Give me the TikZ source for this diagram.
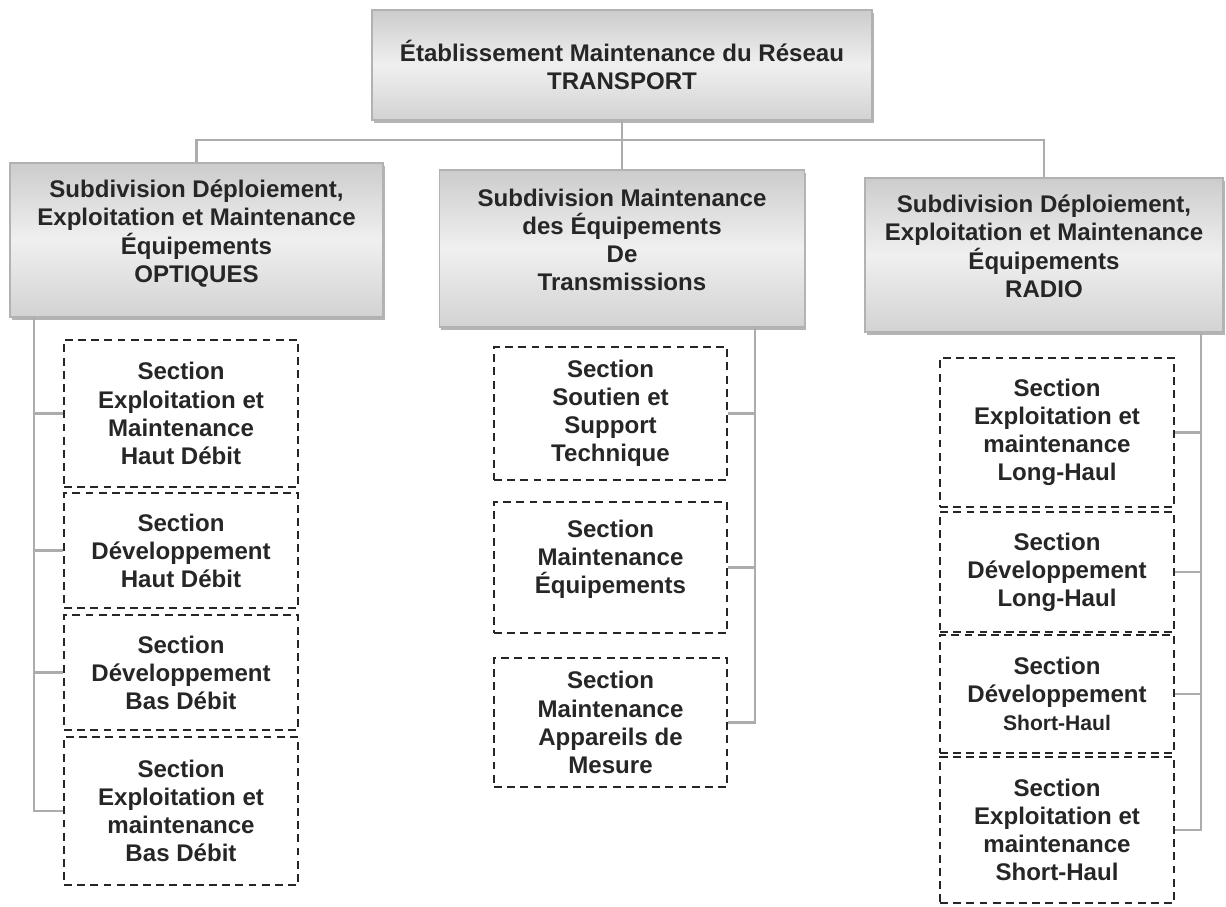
\documentclass[tikz,border=0pt]{standalone}
\usepackage{fontspec}
\setmainfont{Liberation Sans}
\usepackage{tikz}
\usetikzlibrary{shadows}
\newcommand*{\labelfont}{\fontsize{13.7}{16}\selectfont\bfseries}
\newcommand*{\smallhaul}{\fontsize{12}{14}\selectfont}
\tikzstyle{link} = [draw=gray!65, line width=1.2pt]
\tikzstyle{headbox} = [rectangle, draw=gray!60, line width=0.8pt, top color=gray!40, bottom color=gray!35, middle color=gray!12, drop shadow={shadow xshift=1pt, shadow yshift=-1.5pt, fill=gray!65, opacity=0.9}, align=center, font=\labelfont, text=black!85]
\tikzstyle{secbox} = [rectangle, draw=black!85, line width=0.9pt, dash pattern=on 4.5pt off 3pt, align=center, font=\labelfont, text=black!85]

\begin{document}
\begin{tikzpicture}[x=0.02cm, y=-0.02cm]
  \useasboundingbox (0,0) rectangle (1226,906);

  % Top
  \node[headbox, minimum width=10cm, minimum height=2.2cm] (etab) at (622, 65) {Établissement Maintenance du Réseau\\TRANSPORT};
  \coordinate (bus) at (622, 140);

  % Subdivisions (empty last row lifts the text a little)
  \node[headbox, minimum width=7.46cm, minimum height=3.08cm] (sub_opt) at (196.5, 240) {Subdivision Déploiement,\\Exploitation et Maintenance\\Équipements\\OPTIQUES\\[-6pt]};
  \node[headbox, minimum width=7.3cm, minimum height=3.14cm] (sub_trans) at (622, 248.5) {Subdivision Maintenance\\des Équipements\\De\\Transmissions\\[-6pt]};
  \node[headbox, minimum width=7.16cm, minimum height=3.08cm] (sub_radio) at (1044, 255) {Subdivision Déploiement,\\Exploitation et Maintenance\\Équipements\\RADIO\\[-6pt]};

  \draw[link] (etab) -- (sub_trans);
  \draw[link] (sub_opt.north) |- (bus);
  \draw[link] (sub_radio.north) |- (bus);

  % Sections OPTIQUES
  \node[secbox, minimum width=4.68cm, minimum height=2.94cm] (sec_ehd) at (181, 413.5) {Section\\Exploitation et\\Maintenance\\Haut Débit};
  \node[secbox, minimum width=4.68cm, minimum height=2.3cm] (sec_dhd) at (181, 550.5) {Section\\Développement\\Haut Débit};
  \node[secbox, minimum width=4.68cm, minimum height=2.3cm] (sec_dbd) at (181, 672.5) {Section\\Développement\\Bas Débit};
  \node[secbox, minimum width=4.68cm, minimum height=2.96cm] (sec_ebd) at (181, 811) {Section\\Exploitation et\\maintenance\\Bas Débit};

  \draw[link] ([xshift=0.5cm]sub_opt.south west) |- (sec_ehd.west);
  \draw[link] ([xshift=0.5cm]sub_opt.south west) |- (sec_dhd.west);
  \draw[link] ([xshift=0.5cm]sub_opt.south west) |- (sec_dbd.west);
  \draw[link] ([xshift=0.5cm]sub_opt.south west) |- (sec_ebd.west);

  % Sections Transmissions
  \node[secbox, minimum width=4.66cm, minimum height=2.66cm] (sec_sst) at (610.5, 413.5) {Section\\Soutien et\\Support\\Technique};
  \node[secbox, minimum width=4.66cm, minimum height=2.62cm] (sec_meq) at (610.5, 567.5) {Section\\Maintenance\\Équipements\\[-3.5pt]};
  \node[secbox, minimum width=4.66cm, minimum height=2.58cm] (sec_mam) at (610.5, 722.5) {Section\\Maintenance\\Appareils de\\Mesure};

  \draw[link] ([xshift=-1cm]sub_trans.south east) |- (sec_sst.east);
  \draw[link] ([xshift=-1cm]sub_trans.south east) |- (sec_meq.east);
  \draw[link] ([xshift=-1cm]sub_trans.south east) |- (sec_mam.east);

  % Sections RADIO
  \node[secbox, minimum width=4.68cm, minimum height=2.98cm] (sec_elh) at (1057, 432.5) {Section\\Exploitation et\\maintenance\\Long-Haul};
  \node[secbox, minimum width=4.68cm, minimum height=2.4cm] (sec_dlh) at (1057, 572) {Section\\Développement\\Long-Haul};
  \node[secbox, minimum width=4.68cm, minimum height=2.36cm] (sec_dsh) at (1057, 694) {Section\\Développement\\{\smallhaul Short-Haul}};
  \node[secbox, minimum width=4.68cm, minimum height=2.92cm] (sec_esh) at (1057, 830) {Section\\Exploitation et\\maintenance\\Short-Haul};

  \draw[link] ([xshift=-0.46cm]sub_radio.south east) |- (sec_elh.east);
  \draw[link] ([xshift=-0.46cm]sub_radio.south east) |- (sec_dlh.east);
  \draw[link] ([xshift=-0.46cm]sub_radio.south east) |- (sec_dsh.east);
  \draw[link] ([xshift=-0.46cm]sub_radio.south east) |- (sec_esh.east);

\end{tikzpicture}
\end{document}
